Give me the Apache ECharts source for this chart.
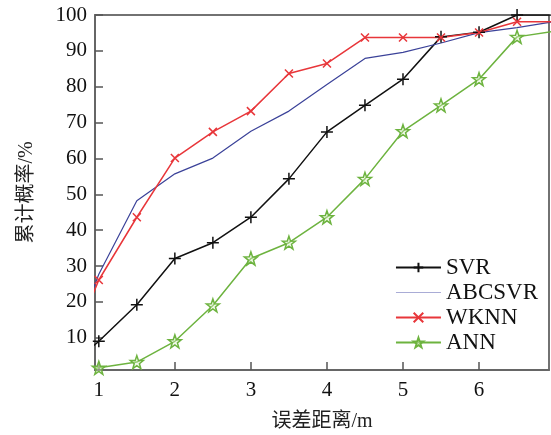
<!DOCTYPE html>
<html>
<head>
<meta charset="utf-8">
<script src="https://cdn.jsdelivr.net/npm/echarts@6/dist/echarts.min.js"></script>
<style>html,body{margin:0;padding:0;background:#fff;}#c{width:551px;height:435px;}</style>
</head>
<body>
<div id="c"></div>
<script>
var xValues = [0.5, 1, 1.5, 2, 2.5, 3, 3.5, 4, 4.5, 5, 5.5, 6, 6.5, 7];
var svr    = [0, 9.0, 19.2, 32.1, 36.5, 43.6, 54.3, 67.4, 74.8, 82.1, 93.9, 95.2, 100, 100];
var abcsvr = [0, 27.7, 48.2, 55.7, 60.1, 67.6, 73.2, 80.6, 87.9, 89.6, 92.2, 95.1, 96.5, 98.2];
var wknn   = [0, 26.1, 43.6, 60.1, 67.4, 73.2, 83.7, 86.5, 93.7, 93.7, 93.7, 95.1, 98.1, 98.1];
var ann    = [0, 1.6, 3.2, 9.0, 19.0, 32.1, 36.5, 43.6, 54.3, 67.6, 74.8, 82.1, 93.9, 95.5];
var xTicks = [1, 2, 3, 4, 5, 6];
var yTicks = [10, 20, 30, 40, 50, 60, 70, 80, 90, 100];
var seriesNames = ['SVR', 'ABCSVR', 'WKNN', 'ANN'];

function pairs(arr) { return xValues.map(function (x, i) { return [x, arr[i]]; }); }

var plus = 'path://M0,-1L0,1M-1,0L1,0';
var cross = 'path://M-1,-1L1,1M-1,1L1,-1';
var star = 'path://M0,-1L0.235,-0.324L0.951,-0.309L0.380,0.124L0.588,0.809L0,0.4L-0.588,0.809L-0.380,0.124L-0.951,-0.309L-0.235,-0.324Z';

var serif = '"Liberation Serif", "Times New Roman", "Noto Sans CJK SC", serif';

var legendData = seriesNames.map(function (n) {
  if (n === 'ABCSVR') {
    return { name: n, itemStyle: { opacity: 0 }, lineStyle: { color: '#a9acd6', width: 1.2 } };
  }
  return { name: n };
});

var chart = echarts.init(document.getElementById('c'));
chart.setOption({
  animation: false,
  backgroundColor: '#fff',
  grid: { left: 95, right: 2, top: 15, bottom: 65, outerBoundsMode: 'none', containLabel: false, show: true, borderColor: '#444', borderWidth: 1.5, backgroundColor: 'transparent' },
  legend: {
    orient: 'vertical', right: 8, top: 251, itemWidth: 45, itemHeight: 12, itemGap: 2,
    textStyle: { fontFamily: serif, fontSize: 23, color: '#111' },
    data: legendData
  },
  xAxis: {
    type: 'value', min: 0.95, max: 6.92,
    name: '误差距离/m', nameLocation: 'middle', nameGap: 42,
    nameTextStyle: { fontFamily: serif, fontSize: 20, color: '#222' },
    axisLine: { show: true, lineStyle: { color: '#666', width: 2 } },
    axisTick: { show: true, inside: true, length: 8, lineStyle: { color: '#555', width: 1.5 }, customValues: xTicks },
    axisLabel: { fontFamily: serif, fontSize: 21, color: '#111', margin: 10, customValues: xTicks },
    splitLine: { show: false }
  },
  yAxis: {
    type: 'value', min: 1, max: 100,
    name: '累计概率/%', nameLocation: 'middle', nameGap: 58, nameRotate: 90,
    nameTextStyle: { fontFamily: serif, fontSize: 20, color: '#222' },
    axisLine: { show: true, lineStyle: { color: '#666', width: 2 } },
    axisTick: { show: true, inside: true, length: 8, lineStyle: { color: '#555', width: 1.5 }, customValues: yTicks },
    axisLabel: { fontFamily: serif, fontSize: 21, color: '#111', margin: 8, customValues: yTicks },
    splitLine: { show: false }
  },
  series: [
    {
      name: 'SVR', type: 'line', data: pairs(svr), clip: true,
      symbol: plus, symbolSize: 12, showAllSymbol: true,
      lineStyle: { color: '#111', width: 1.5 },
      itemStyle: { color: '#111', borderColor: '#111', borderWidth: 1.5 }
    },
    {
      name: 'ABCSVR', type: 'line', data: pairs(abcsvr), clip: true,
      symbol: 'none',
      lineStyle: { color: '#3b4299', width: 1.2 },
      itemStyle: { color: '#3b4299' }
    },
    {
      name: 'WKNN', type: 'line', data: pairs(wknn), clip: true,
      symbol: cross, symbolSize: 8, showAllSymbol: true,
      lineStyle: { color: '#e8363a', width: 1.5 },
      itemStyle: { color: '#e8363a', borderColor: '#e8363a', borderWidth: 1.5 }
    },
    {
      name: 'ANN', type: 'line', data: pairs(ann), clip: true,
      symbol: star, symbolSize: 13, showAllSymbol: true,
      lineStyle: { color: '#6db33f', width: 1.5 },
      itemStyle: { color: 'rgba(220,240,200,0.4)', borderColor: '#6db33f', borderWidth: 1.5 }
    }
  ]
});
</script>
</body>
</html>
